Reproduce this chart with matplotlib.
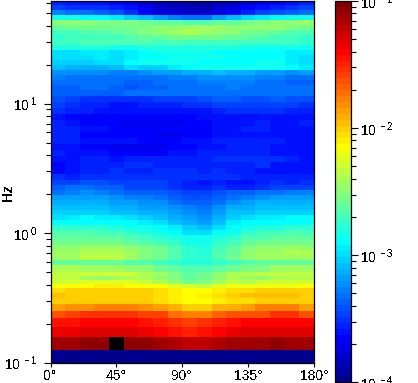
import matplotlib
matplotlib.use("Agg")
import matplotlib.pyplot as plt
import numpy as np
from matplotlib.colors import ListedColormap, LogNorm
from matplotlib.ticker import FixedLocator, FuncFormatter, NullFormatter

plt.rcParams["font.family"] = ["Liberation Sans", "DejaVu Sans"]
plt.rcParams["mathtext.fontset"] = "custom"
plt.rcParams["mathtext.rm"] = "Liberation Sans"
plt.rcParams["mathtext.default"] = "regular"
plt.rcParams["text.antialiased"] = False

# direction bins (degrees)
angle_edges = np.arange(0, 181, 10)
angle_ticks = [0, 45, 90, 135, 180]
angle_labels = ["0°", "45°", "90°", "135°", "180°"]

# frequency bin edges (Hz)
freq_edges = [
    0.1, 0.125, 0.15625, 0.1875, 0.21875, 0.25, 0.28125, 0.3125, 0.34375, 0.375,
    0.40625, 0.4375, 0.46875, 0.5, 0.566, 0.619, 0.676, 0.739, 0.808, 0.883,
    0.965, 1.055, 1.153, 1.26, 1.377, 1.505, 1.645, 1.798, 1.965, 2.148,
    2.348, 2.566, 2.855, 3.176, 3.534, 3.932, 4.375, 4.868, 5.415, 6.025,
    6.704, 7.457, 8.296, 9.233, 10.27, 11.43, 12.71, 13.9, 15.19, 16.6,
    18.15, 19.83, 21.68, 23.69, 25.89, 28.3, 30.93, 33.8, 36.95, 40.38,
    44.13, 48.24, 52.72, 57.62, 62.5,
]

# colour bar step (1-64, 65 = above range) of every cell, lowest frequency first
steps = [
    [1] * 18,
    [62, 62, 63, 63, 65, 63, 63, 62, 61, 60, 60, 61, 62, 62, 62, 63, 62, 62],
    [57, 57, 58, 58, 58, 58, 57, 56, 55, 54, 55, 56, 57, 58, 58, 58, 58, 58],
    [55, 55, 56, 56, 56, 56, 55, 54, 53, 52, 53, 54, 55, 56, 56, 56, 56, 56],
    [51, 52, 53, 53, 53, 53, 52, 52, 49, 48, 48, 50, 51, 51, 51, 53, 53, 51],
    [46, 47, 47, 48, 48, 48, 47, 46, 45, 43, 43, 45, 45, 46, 48, 48, 48, 46],
    [43, 43, 43, 43, 43, 43, 43, 42, 41, 40, 40, 41, 42, 42, 43, 43, 43, 43],
    [44, 43, 43, 43, 43, 43, 43, 42, 41, 40, 41, 42, 43, 44, 44, 44, 44, 43],
    [42, 43, 43, 43, 43, 43, 43, 42, 41, 40, 40, 41, 42, 42, 43, 43, 43, 43],
    [40, 40, 40, 41, 41, 40, 40, 40, 38, 37, 36, 38, 39, 39, 39, 39, 39, 40],
    [37, 37, 38, 38, 38, 38, 36, 35, 33, 31, 32, 34, 36, 35, 37, 37, 37, 37],
    [36, 36, 34, 33, 34, 35, 35, 33, 32, 30, 31, 33, 35, 34, 33, 35, 35, 35],
    [36, 36, 37, 37, 37, 37, 35, 34, 32, 30, 31, 33, 35, 35, 36, 36, 36, 36],
    [35, 35, 34, 34, 34, 33, 33, 31, 30, 29, 29, 30, 31, 32, 32, 34, 34, 34],
    [30, 30, 30, 30, 30, 29, 29, 28, 27, 26, 26, 27, 28, 29, 30, 30, 30, 30],
    [34, 34, 36, 36, 36, 34, 32, 31, 29, 27, 27, 29, 31, 33, 34, 34, 34, 34],
    [34, 34, 35, 35, 35, 34, 32, 31, 29, 27, 26, 29, 30, 33, 34, 34, 35, 35],
    [33, 33, 34, 34, 34, 33, 32, 31, 29, 27, 26, 28, 30, 32, 33, 33, 34, 33],
    [31, 31, 31, 31, 31, 30, 29, 28, 27, 25, 25, 27, 28, 30, 31, 31, 31, 31],
    [30, 30, 30, 30, 30, 29, 28, 27, 26, 25, 25, 26, 27, 29, 29, 30, 30, 30],
    [29, 29, 29, 28, 28, 27, 26, 25, 24, 22, 22, 24, 25, 27, 28, 28, 29, 28],
    [27, 27, 27, 27, 26, 25, 25, 24, 23, 21, 20, 22, 24, 25, 26, 26, 27, 27],
    [24, 24, 24, 24, 24, 24, 23, 22, 20, 19, 18, 20, 23, 24, 24, 24, 24, 24],
    [22, 23, 24, 23, 23, 22, 21, 20, 19, 18, 17, 19, 21, 22, 23, 23, 24, 24],
    [21, 21, 21, 21, 20, 20, 19, 19, 18, 17, 16, 18, 20, 20, 21, 21, 21, 21],
    [20, 20, 20, 20, 19, 19, 18, 18, 17, 16, 15, 17, 19, 19, 20, 20, 20, 20],
    [19, 19, 19, 19, 18, 18, 17, 17, 15, 14, 14, 15, 17, 18, 19, 19, 19, 19],
    [18, 18, 18, 18, 17, 16, 16, 15, 14, 13, 13, 14, 15, 16, 17, 18, 18, 18],
    [15, 16, 17, 16, 15, 14, 14, 14, 13, 12, 12, 13, 14, 14, 15, 15, 16, 16],
    [14, 15, 15, 14, 14, 12, 12, 12, 11, 10, 10, 11, 10, 10, 11, 12, 12, 12],
    [12, 12, 13, 13, 12, 12, 12, 12, 11, 10, 9, 10, 9, 9, 10, 11, 10, 11],
    [11, 10, 11, 11, 11, 11, 11, 11, 11, 11, 11, 11, 11, 10, 10, 10, 10, 10],
    [8, 9, 10, 10, 11, 10, 10, 11, 11, 11, 10, 11, 10, 10, 9, 9, 9, 9],
    [8, 9, 10, 10, 10, 11, 11, 10, 10, 10, 10, 10, 10, 10, 11, 9, 9, 9],
    [9, 9, 10, 10, 9, 10, 10, 10, 10, 10, 10, 11, 11, 11, 11, 11, 10, 9],
    [10, 9, 9, 9, 8, 8, 8, 8, 9, 9, 10, 10, 10, 10, 10, 9, 9, 9],
    [9, 9, 8, 8, 7, 7, 7, 7, 8, 8, 9, 9, 10, 10, 10, 9, 9, 9],
    [10, 10, 9, 9, 9, 9, 8, 8, 8, 9, 9, 10, 10, 10, 10, 10, 9, 9],
    [10, 10, 8, 8, 8, 8, 8, 7, 7, 8, 8, 9, 9, 9, 9, 9, 9, 9],
    [10, 10, 9, 9, 8, 8, 8, 8, 8, 8, 8, 9, 9, 10, 10, 9, 9, 9],
    [10, 9, 8, 8, 8, 7, 7, 7, 7, 8, 8, 9, 9, 9, 10, 9, 9, 10],
    [9, 8, 8, 8, 8, 8, 8, 8, 8, 8, 9, 9, 9, 9, 9, 9, 9, 9],
    [11, 10, 10, 9, 9, 9, 9, 9, 9, 9, 9, 10, 11, 11, 11, 11, 10, 10],
    [12, 11, 10, 10, 9, 9, 10, 10, 10, 11, 11, 12, 12, 12, 12, 12, 12, 11],
    [13, 12, 11, 11, 11, 11, 11, 12, 12, 12, 13, 14, 14, 13, 13, 14, 13, 13],
    [14, 14, 14, 14, 14, 15, 15, 15, 15, 15, 15, 15, 15, 15, 15, 15, 15, 15],
    [14, 14, 15, 15, 14, 13, 14, 14, 15, 15, 15, 15, 16, 15, 15, 15, 15, 15],
    [15, 15, 15, 15, 15, 14, 14, 15, 15, 15, 16, 16, 16, 16, 15, 15, 14, 14],
    [16, 15, 15, 15, 15, 15, 15, 15, 16, 16, 17, 17, 17, 17, 16, 16, 15, 15],
    [17, 17, 17, 17, 16, 16, 17, 18, 18, 19, 19, 20, 19, 19, 18, 18, 17, 18],
    [20, 19, 19, 19, 20, 22, 21, 21, 23, 24, 25, 25, 25, 25, 25, 25, 24, 23],
    [21, 21, 21, 22, 22, 24, 25, 25, 25, 25, 24, 24, 24, 24, 25, 25, 23, 22],
    [22, 22, 22, 23, 22, 23, 24, 24, 25, 25, 25, 25, 24, 24, 24, 24, 23, 22],
    [22, 22, 23, 23, 22, 23, 24, 25, 25, 25, 25, 24, 24, 24, 24, 24, 23, 23],
    [26, 26, 26, 26, 25, 25, 26, 26, 26, 26, 26, 26, 26, 25, 25, 25, 25, 25],
    [28, 28, 29, 29, 29, 29, 29, 28, 29, 28, 28, 28, 28, 28, 28, 28, 28, 27],
    [27, 28, 28, 28, 28, 29, 30, 30, 31, 31, 31, 31, 30, 30, 29, 28, 28, 27],
    [28, 28, 29, 29, 30, 31, 32, 33, 34, 35, 34, 33, 33, 31, 31, 30, 29, 29],
    [30, 31, 31, 31, 31, 31, 32, 33, 33, 34, 34, 34, 33, 33, 33, 33, 32, 31],
    [33, 33, 33, 32, 32, 32, 31, 30, 30, 29, 29, 30, 30, 31, 32, 33, 33, 34],
    [25, 25, 24, 24, 23, 21, 20, 18, 16, 15, 15, 18, 20, 22, 23, 24, 25, 25],
    [16, 15, 15, 14, 13, 11, 8, 6, 6, 5, 5, 6, 8, 10, 12, 13, 14, 15],
    [12, 11, 11, 11, 10, 9, 7, 5, 4, 4, 3, 5, 6, 8, 9, 10, 11, 12],
    [10, 9, 9, 9, 8, 7, 5, 4, 3, 2, 2, 3, 4, 6, 7, 8, 9, 10],
]


def jet64():
    """jet with 64 steps, starting and ending like the reference colour bar."""
    u = np.r_[np.arange(1, 17) / 16, np.ones(15), np.arange(16, 0, -1) / 16]
    r, g, b = np.zeros(64), np.zeros(64), np.zeros(64)
    g[8:55] = u
    r[24:64] = u[:40]
    b[:39] = u[-39:]
    return ListedColormap(np.c_[r, g, b])


def pow10_label(val, pos):
    # exponent sits a little away from the 10, as in the reference
    return r"$10^{\,%d}$" % round(np.log10(val))


# colour bar runs over three decades in 64 steps
power = 10.0 ** (-4 + (np.array(steps) - 0.5) * 3 / 64)

cmap = jet64()
cmap.set_over("black")
norm = LogNorm(vmin=1e-4, vmax=1e-1)

W, H = 418, 383
fig = plt.figure(figsize=(W / 100, H / 100), dpi=100)
ax = fig.add_axes([50.5 / W, 1 - 362.5 / H, 263.5 / W, 362 / H])
cax = fig.add_axes([335 / W, 1 - 382.3 / H, 16 / W, 381.3 / H])

mesh = ax.pcolormesh(angle_edges, freq_edges, power, cmap=cmap, norm=norm,
                     antialiased=False, linewidth=0)
ax.set_yscale("log")
ax.set_xlim(0, 180)
ax.set_ylim(0.1, 62.5)
ax.set_xticks(angle_ticks)
ax.set_xticklabels(angle_labels)
ax.yaxis.set_major_formatter(FuncFormatter(pow10_label))
ax.yaxis.set_minor_formatter(NullFormatter())
ax.tick_params(axis="x", which="major", length=3, width=0.8, labelsize=10, pad=1.5)
ax.tick_params(axis="y", which="major", length=5, width=0.8, labelsize=10, pad=4.5)
ax.tick_params(axis="y", which="minor", length=3.5, width=0.8)
fig.text(8 / W, 1 - 193 / H, "Hz", rotation=90, fontweight="bold", fontsize=10,
         ha="center", va="center")

fig.colorbar(mesh, cax=cax)
cax.set_yscale("log")
cax.yaxis.set_major_locator(FixedLocator([1e-4, 1e-3, 1e-2, 1e-1]))
cax.yaxis.set_minor_locator(FixedLocator(
    [m * 10.0 ** e for e in (-4, -3, -2) for m in range(2, 10)]))
cax.yaxis.set_major_formatter(FuncFormatter(pow10_label))
cax.yaxis.set_minor_formatter(NullFormatter())
cax.tick_params(axis="y", which="major", length=5, width=0.8, labelsize=10, pad=1.7)
cax.tick_params(axis="y", which="minor", length=3.5, width=0.8)

for a in (ax, cax):
    for s in a.spines.values():
        s.set_linewidth(0.9)

fig.savefig("out.png", dpi=100)
